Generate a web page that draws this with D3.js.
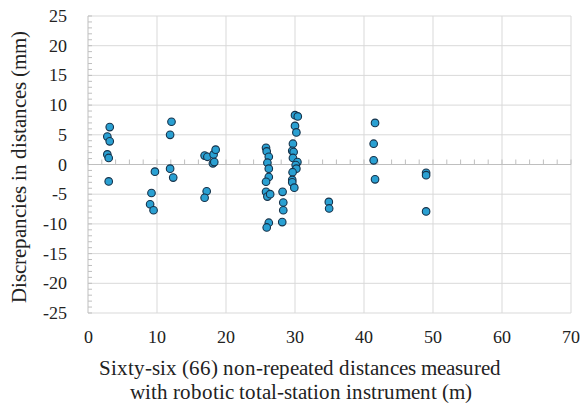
<!DOCTYPE html>
<html>
<head>
<meta charset="utf-8">
<script src="https://cdn.jsdelivr.net/npm/d3@7"></script>
<style>
  @font-face { font-family: "ChartSerif"; src: local("Liberation Serif"), local("LiberationSerif"), local("Liberation Serif Regular"), local("Times New Roman"); }
</style>
</head>
<body style="margin:0">
<svg width="581" height="406"></svg>
<script>
// distances measured (m) and discrepancies (mm)
const distances = [
  3.15, 2.8, 3.15, 2.8, 3.0, 3.0,
  9.7, 9.2, 9.0, 9.5,
  12.1, 11.9, 11.9, 12.35,
  16.9, 17.3, 18.2, 18.5, 18.1, 18.3, 17.2, 16.9,
  25.8, 25.9, 26.2, 26.0, 26.2, 26.2, 25.8, 25.8, 26.0, 26.4, 26.2, 25.9,
  28.2, 28.3, 28.3, 28.15,
  30.0, 30.4, 30.0, 30.2, 29.7, 29.6, 29.8, 29.7, 30.35, 30.1, 30.2, 29.65, 29.6, 29.6, 29.9,
  34.9, 34.95,
  41.6, 41.4, 41.4, 41.6,
  49.0, 49.0, 49.0
]
const discrepancies = [
  6.3, 4.7, 3.9, 1.7, 1.1, -2.85,
  -1.2, -4.8, -6.7, -7.7,
  7.2, 5.0, -0.7, -2.2,
  1.5, 1.3, 1.7, 2.5, 0.2, 0.4, -4.5, -5.6,
  2.8, 2.2, 1.3, 0.3, -0.7, -2.1, -2.9, -4.6, -5.4, -5.0, -9.8, -10.6,
  -4.6, -6.4, -7.7, -9.7,
  8.3, 8.1, 6.5, 5.4, 3.5, 2.3, 2.1, 1.1, 0.4, -0.1, -0.7, -1.3, -2.6, -3.0, -3.9,
  -6.3, -7.4,
  7.0, 3.5, 0.7, -2.5,
  -1.4, -1.8, -7.9
]
const xTicks = [0, 10, 20, 30, 40, 50, 60, 70]
const yTicks = [-25, -20, -15, -10, -5, 0, 5, 10, 15, 20, 25]

const data = distances.map((d, i) => ({x: d, y: discrepancies[i]}))

const margin = {top: 16, right: 10, bottom: 93, left: 88}
const width = 581, height = 406
const serif = '"ChartSerif", "Liberation Serif", "Times New Roman", serif'

const svg = d3.select("svg")

const x = d3.scaleLinear().domain([0, 70]).range([margin.left, width - margin.right])
const y = d3.scaleLinear().domain([-25, 25]).range([height - margin.bottom, margin.top])

// gridlines
svg.append("g")
  .selectAll("line")
  .data(yTicks)
  .join("line")
    .attr("x1", x(0)).attr("x2", x(70))
    .attr("y1", d => y(d)).attr("y2", d => y(d))
    .attr("stroke", "#d9d9d9")

svg.append("g")
  .selectAll("line")
  .data(xTicks.slice(1))
  .join("line")
    .attr("x1", d => x(d)).attr("x2", d => x(d))
    .attr("y1", y(25)).attr("y2", y(-25))
    .attr("stroke", "#d9d9d9")

// left axis line, minor ticks every 1 mm
svg.append("line")
  .attr("x1", x(0)).attr("x2", x(0))
  .attr("y1", y(-25)).attr("y2", y(25))
  .attr("stroke", "#bfbfbf")
svg.append("g")
  .selectAll("line")
  .data(d3.range(-25, 26, 1))
  .join("line")
    .attr("x1", x(0)).attr("x2", x(0) + 4)
    .attr("y1", d => y(d)).attr("y2", d => y(d))
    .attr("stroke", "#bfbfbf")

// zero line, minor ticks every 2 m
svg.append("line")
  .attr("x1", x(0)).attr("x2", x(70))
  .attr("y1", y(0)).attr("y2", y(0))
  .attr("stroke", "#bfbfbf")
svg.append("g")
  .selectAll("line")
  .data(d3.range(0, 71, 2))
  .join("line")
    .attr("x1", d => x(d)).attr("x2", d => x(d))
    .attr("y1", y(0)).attr("y2", y(0) - 5)
    .attr("stroke", "#bfbfbf")

// tick labels
svg.append("g")
  .selectAll("text")
  .data(yTicks)
  .join("text")
    .attr("x", 67)
    .attr("y", d => y(d) + 6)
    .attr("text-anchor", "end")
    .attr("font-family", serif)
    .attr("font-size", 18)
    .attr("fill", "#222")
    .text(d => d)

svg.append("g")
  .selectAll("text")
  .data(xTicks)
  .join("text")
    .attr("x", d => x(d))
    .attr("y", 343)
    .attr("text-anchor", "middle")
    .attr("font-family", serif)
    .attr("font-size", 18)
    .attr("fill", "#222")
    .text(d => d)

// points
svg.append("g")
  .selectAll("circle")
  .data(data)
  .join("circle")
    .attr("cx", d => x(d.x))
    .attr("cy", d => y(d.y))
    .attr("r", 3.8)
    .attr("fill", "#2aa0d2")
    .attr("stroke", "#16324a")
    .attr("stroke-width", 1.1)

// axis titles
svg.append("text")
  .attr("x", 300)
  .attr("y", 375)
  .attr("text-anchor", "middle")
  .attr("font-family", serif)
  .attr("font-size", 20.5)
  .attr("fill", "#222")
  .text("Sixty-six (66) non-repeated distances measured")

svg.append("text")
  .attr("x", 301)
  .attr("y", 399)
  .attr("text-anchor", "middle")
  .attr("font-family", serif)
  .attr("font-size", 20.5)
  .attr("fill", "#222")
  .text("with robotic total-station instrument (m)")

svg.append("text")
  .attr("transform", "translate(26,167) rotate(-90)")
  .attr("text-anchor", "middle")
  .attr("font-family", serif)
  .attr("font-size", 20.5)
  .attr("fill", "#222")
  .text("Discrepancies in distances (mm)")
</script>
</body>
</html>
